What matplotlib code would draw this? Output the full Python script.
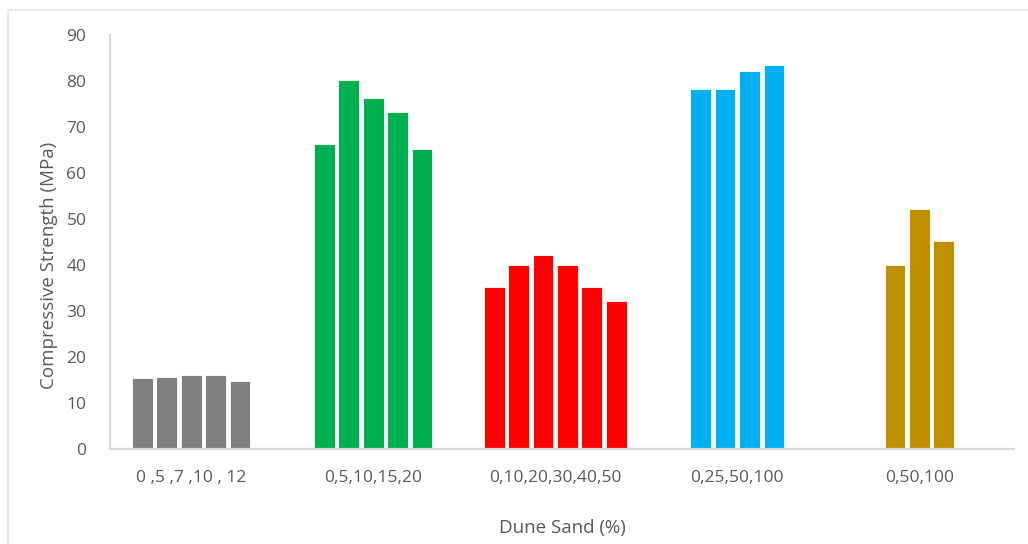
import matplotlib
matplotlib.use("Agg")
import matplotlib.pyplot as plt
from matplotlib.patches import Rectangle

plt.rcParams["font.family"] = ["Open Sans", "DejaVu Sans"]

# --- data ---
groups = ["0 ,5 ,7 ,10 , 12", "0,5,10,15,20", "0,10,20,30,40,50", "0,25,50,100", "0,50,100"]
grey_vals = [15.4, 15.7, 16.0, 16.0, 14.8]
green_vals = [66.2, 80.3, 76.3, 73.3, 65.2]
red_vals = [35.2, 40.1, 42.2, 40.1, 35.2, 32.2]
blue_vals = [78.2, 78.2, 82.2, 83.5]
gold_vals = [40.1, 52.2, 45.2]
series = [grey_vals, green_vals, red_vals, blue_vals, gold_vals]
colors = ["#7f7f7f", "#00b050", "#ff0000", "#00b0f0", "#bf9000"]
yticks = [0, 10, 20, 30, 40, 50, 60, 70, 80, 90]

txt = "#595959"
axis_c = "#d9d9d9"

fig = plt.figure(figsize=(10.28, 5.44), dpi=100)
fig.patch.set_facecolor("white")
# outer chart border (Excel chart area)
fig.patches.append(Rectangle((8 / 1028, -0.1), 1.2, (544 - 10) / 544 + 0.1,
                             transform=fig.transFigure, fill=False,
                             edgecolor="#e3e3e3", lw=1.2))

ax = fig.add_axes([110 / 1028, 95 / 544, 904 / 1028, 414 / 544])
pitch, width = 0.134, 0.114
for gi, (vals, col) in enumerate(zip(series, colors)):
    n = len(vals)
    xs = [gi + (k - (n - 1) / 2) * pitch for k in range(n)]
    ax.bar(xs, vals, width=width, color=col, edgecolor="white", linewidth=0.6, zorder=2)

ax.set_xlim(-0.446, 4.52)
ax.set_ylim(0, 90)
for s in ["top", "right"]:
    ax.spines[s].set_visible(False)
for s in ["left", "bottom"]:
    ax.spines[s].set_color(axis_c)
    ax.spines[s].set_linewidth(1.6)
ax.set_yticks(yticks)
ax.set_yticklabels([str(t) for t in yticks], color=txt, fontsize=12.5)
ax.set_xticks(range(len(groups)))
ax.set_xticklabels(groups, color=txt, fontsize=12.5)
ax.tick_params(length=0)
ax.tick_params(axis="y", pad=17)
ax.tick_params(axis="x", pad=15)
ax.set_ylabel("Compressive Strength (MPa)", color=txt, fontsize=13.5)
ax.yaxis.set_label_coords(-0.057, 0.444)
ax.set_xlabel("Dune Sand (%)", color=txt, fontsize=13.5, labelpad=24)

fig.savefig("out.png", facecolor="white")
